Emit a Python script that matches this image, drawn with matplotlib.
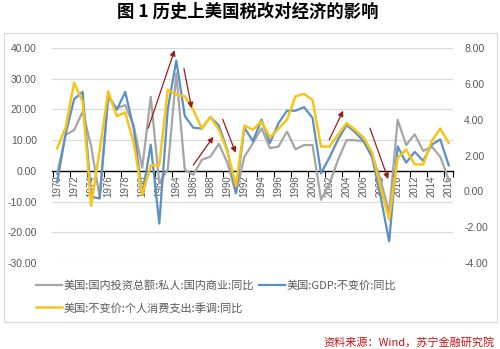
import matplotlib
matplotlib.use("Agg")
import matplotlib.pyplot as plt
import matplotlib.ticker as mticker
from matplotlib.patches import Rectangle
from matplotlib.lines import Line2D
import numpy as np

plt.rcParams['font.family'] = ['Liberation Sans', 'Noto Sans CJK SC', 'DejaVu Sans']

# ---------------- data ----------------
years = list(range(1970, 2017))

invest_label = "美国:国内投资总额:私人:国内商业:同比"
gdp_label = "美国:GDP:不变价:同比"
pce_label = "美国:不变价:个人消费支出:季调:同比"

invest = [-1.0, 11.7, 13.3, 19.3, 8.0, -8.6, 23.7, 20.4, 21.4, 14.7,
          1.0, 24.1, -4.0, 0.5, 31.7, 0.3, -1.3, 3.6, 4.6, 8.8,
          2.6, -7.3, 4.6, 9.0, 13.9, 7.4, 7.9, 12.8, 7.0, 8.4,
          8.4, -9.4, -4.0, 3.6, 10.0, 10.0, 9.6, 5.2, -3.0, -13.6,
          16.6, 8.4, 11.9, 6.5, 7.9, 4.6, -2.9]

gdp = [0.5, 3.2, 5.15, 5.55, -0.3, -0.4, 5.4, 4.55, 5.55, 3.5,
       -0.2, 2.6, -1.8, 4.6, 7.3, 4.2, 3.55, 3.5, 4.15, 3.67,
       2.3, -0.1, 3.55, 2.8, 4.0, 2.7, 3.8, 4.5, 4.5, 4.7,
       4.1, 1.0, 1.9, 2.9, 3.7, 3.3, 2.8, 1.9, -0.3, -2.8,
       2.5, 1.6, 2.2, 1.7, 2.6, 2.9, 1.45]

pce = [2.4, 3.55, 6.07, 5.0, -0.8, 2.3, 5.57, 4.2, 4.4, 2.7,
       -0.2, 1.45, 1.45, 5.67, 5.4, 5.3, 4.55, 3.5, 4.15, 3.44,
       2.24, 0.3, 3.67, 3.44, 3.9, 3.0, 3.5, 4.0, 5.3, 5.44,
       5.1, 2.5, 2.5, 3.17, 3.8, 3.44, 3.0, 2.16, 0.2, -1.56,
       1.87, 2.33, 1.5, 1.5, 2.8, 3.5, 2.7]

left_ticks = [-30, -20, -10, 0, 10, 20, 30, 40]
right_ticks = [-4, -2, 0, 2, 4, 6, 8]
label_years = list(range(1970, 2017, 2))

# annotation arrows: (start_year, start_val, end_year, end_val) on left axis
arrows = [
    (1980.7, 13.9, 1983.8, 39.3),
    (1984.9, 33.3, 1985.8, 20.4),
    (1986.0, 1.9, 1988.35, 11.1),
    (1989.45, 16.8, 1990.97, 5.9),
    (2001.96, 10.1, 2003.6, 19.6),
    (2006.74, 13.9, 2008.89, -2.7),
]

title = "图 1 历史上美国税改对经济的影响"
source = "资料来源：Wind，苏宁金融研究院"

# ---------------- style ----------------
c_gray = '#a5a5a5'
c_blue = '#5b8fc7'
c_yellow = '#f5c518'
c_text = '#595959'
c_grid = '#d9d9d9'
c_arrow = '#9b1c1c'

W, H = 500, 349
fig = plt.figure(figsize=(W / 100, H / 100), dpi=100)

# outer frame
fig.patches.append(Rectangle((4 / W, 1 - 322 / H), 493 / W, 289 / H,
                             transform=fig.transFigure, fill=False,
                             edgecolor=c_grid, linewidth=0.8))

ax = fig.add_axes([52 / W, 1 - 263 / H, 401 / W, 215 / H])
ax2 = ax.twinx()

ax.set_xlim(1969.4, 2016.5)
ax.set_ylim(-30, 40)
ax2.set_ylim(-4, 8)

for a in (ax, ax2):
    for s in ('left', 'right', 'top', 'bottom'):
        a.spines[s].set_visible(False)

# gridlines
ax.set_yticks(left_ticks)
ax.yaxis.set_major_formatter(mticker.FormatStrFormatter('%.2f'))
for t in left_ticks:
    if t != 0:
        ax.axhline(t, color=c_grid, linewidth=0.8, zorder=0)
ax.tick_params(axis='y', length=0, pad=11, labelsize=7.5, labelcolor=c_text)

ax2.set_yticks(right_ticks)
ax2.yaxis.set_major_formatter(mticker.FormatStrFormatter('%.2f'))
ax2.tick_params(axis='y', length=0, pad=8, labelsize=7.5, labelcolor=c_text)

# x axis at zero
ax.spines['bottom'].set_visible(True)
ax.spines['bottom'].set_position(('data', 0))
ax.spines['bottom'].set_color('black')
ax.spines['bottom'].set_linewidth(1.0)
ax.spines['bottom'].set_zorder(1)
ax.set_xticks(label_years)
ax.set_xticklabels([str(y) for y in label_years], rotation=90)
ax.set_xticks(list(np.arange(1969.5, 2016.6, 2.0)) + [2016.5], minor=True)
ax.tick_params(axis='x', which='major', length=0, pad=3, labelsize=7, labelcolor=c_text)
ax.tick_params(axis='x', which='minor', length=4, width=0.8, color='black', direction='out')

# series
ax.plot(years, invest, color=c_gray, linewidth=1.6, zorder=3)
ax2.plot(years, gdp, color=c_blue, linewidth=1.6, zorder=3)
ax2.plot(years, pce, color=c_yellow, linewidth=1.8, zorder=4)

# arrows
for (x0, y0, x1, y1) in arrows:
    ax2.annotate('', xy=(x1, y1 * 12 / 70 + (-4 - (-30) * 12 / 70)),
                 xytext=(x0, y0 * 12 / 70 + (-4 - (-30) * 12 / 70)),
                 arrowprops=dict(arrowstyle='-|>', color=c_arrow, lw=0.9,
                                 mutation_scale=8, shrinkA=0, shrinkB=0),
                 zorder=6)

# title
fig.text(248 / W, 1 - 12 / H, title, ha='center', va='center', fontsize=12.5,
         fontweight='bold', family=['Noto Sans CJK SC', 'DejaVu Sans'], color='black')

# legend
handles = [Line2D([], [], color=c_gray, linewidth=1.6),
           Line2D([], [], color=c_yellow, linewidth=1.8),
           Line2D([], [], color=c_blue, linewidth=1.6)]
labels = [invest_label, pce_label, gdp_label]
leg = fig.legend(handles, labels, loc='upper left', bbox_to_anchor=(36 / W, 1 - 280 / H),
                 ncol=2, frameon=False, fontsize=8, handlelength=2.3,
                 handletextpad=0.15, columnspacing=0.5, labelspacing=1.05,
                 borderpad=0, borderaxespad=0)
for t in leg.get_texts():
    t.set_color(c_text)
    t.set_family(['Noto Sans CJK SC', 'DejaVu Sans'])

# source
fig.text(495 / W, 1 - 342 / H, source, ha='right', va='center', fontsize=8,
         color='#cc1111', style='italic', family=['Noto Sans CJK SC', 'DejaVu Sans'])

fig.savefig('out.png', dpi=100)
